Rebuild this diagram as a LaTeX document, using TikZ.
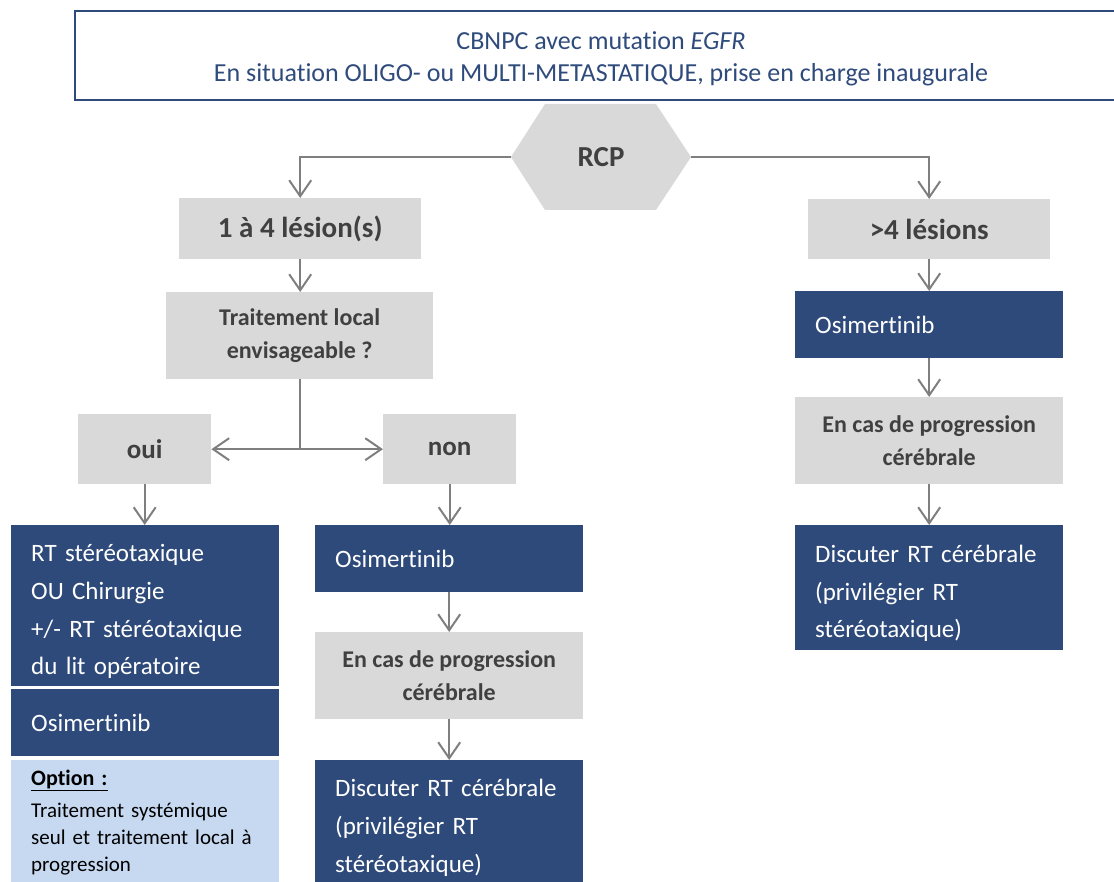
\documentclass[tikz,border=0pt]{standalone}
\usepackage{fontspec}
\setmainfont{Carlito}[Ligatures=NoCommon]
\usetikzlibrary{positioning,arrows.meta}
\definecolor{Navy}{HTML}{2E4A7A}
\definecolor{NavyInk}{HTML}{2F4B7C}
\definecolor{Stone}{HTML}{D9D9D9}
\definecolor{StoneInk}{HTML}{404040}
\definecolor{Wire}{HTML}{7F7F7F}
\definecolor{Mist}{HTML}{C6D9F1}
\tikzset{
  darkbox/.style={fill=Navy,text=white,anchor=north west,inner xsep=20pt,
    inner ysep=0pt,text width=228pt,align=left,
    font=\fontsize{25}{37.7}\selectfont},
  drop/.style={execute at begin node={\rule{0pt}{29pt}}},
  greybox/.style={fill=Stone,text=StoneInk,anchor=north west,inner sep=0pt,
    align=center,font=\bfseries\fontsize{27}{33}\selectfont},
  biggrey/.style={greybox,font=\bfseries\fontsize{29}{33}\selectfont},
  smallgrey/.style={greybox,font=\bfseries\fontsize{24}{33}\selectfont},
  wire/.style={draw=Wire,line width=2pt},
  arr/.style={wire,-{Straight Barb[length=16pt,width=22pt]}},
}

\begin{document}
\begin{tikzpicture}[x=1pt,y=-1pt]
  \useasboundingbox (0,0) rectangle (1114,882);
  \node[draw=Navy,line width=2pt,anchor=north west,minimum width=1052pt,
        minimum height=89pt,align=center,text=NavyInk,
        font=\fontsize{26}{32}\selectfont] (title) at (74,10)
        {\rule{0pt}{24pt}CBNPC avec mutation \textit{EGFR}\\
         En situation OLIGO- ou MULTI-METASTATIQUE, prise en charge inaugurale};
  \fill[Stone] (511,157) -- (545,104) -- (656,104) -- (691,157)
               -- (656,210) -- (545,210) -- cycle;
  \node[inner sep=0pt,minimum width=180pt,minimum height=106pt,text=StoneInk,
        font=\bfseries\fontsize{29}{33}\selectfont] (rcp) at (601,157) {RCP};
  \node[biggrey,minimum width=242pt,minimum height=61pt] (l14) at (179,198)
        {1 à 4 lésion(s)};
  \node[biggrey,minimum width=242pt,minimum height=60pt] (lplus) at (808,199)
        {>4 lésions};
  \node[smallgrey,minimum width=267pt,minimum height=87pt] (tl) at (166,292)
        {Traitement local\\envisageable ?};
  \node[greybox,minimum width=133pt,minimum height=70pt] (oui) at (78,414) {oui};
  \node[greybox,minimum width=133pt,minimum height=70pt] (non) at (383,414) {non};
  \node[darkbox,drop,minimum height=161pt] (rt) at (11,525)
        {RT stéréotaxique\\OU Chirurgie\\+/- RT stéréotaxique\\du lit opératoire};
  \node[darkbox,minimum height=67pt] (osiA) at (11,689) {Osimertinib};
  \node[darkbox,fill=Mist,text=black,minimum height=124pt,
        font=\fontsize{21}{27}\selectfont] (opt) at (11,760)
        {\textbf{\fontsize{22}{27}\selectfont\underline{Option :}}\\[5pt]
         Traitement systémique\\seul et traitement local à\\progression};
  \node[darkbox,minimum height=67pt] (osiB) at (315,525) {Osimertinib};
  \node[smallgrey,minimum width=268pt,minimum height=87pt] (casB) at (315,632)
        {En cas de progression\\cérébrale};
  \node[darkbox,drop,minimum height=124pt] (discB) at (315,760)
        {Discuter RT cérébrale\\(privilégier RT\\stéréotaxique)};
  \node[darkbox,minimum height=67pt] (osiC) at (795,291) {Osimertinib};
  \node[smallgrey,minimum width=268pt,minimum height=87pt] (casC) at (795,397)
        {En cas de progression\\cérébrale};
  \node[darkbox,drop,minimum height=125pt] (discC) at (795,525)
        {Discuter RT cérébrale\\(privilégier RT\\stéréotaxique)};

  \draw[arr] (rcp.west) -| (l14.north);
  \draw[arr] (rcp.east) -| (lplus.north);
  \coordinate (fork) at (tl.south |- oui.east);
  \draw[wire] (tl.south) -- (fork);
  \draw[arr] (fork) -- (oui.east);
  \draw[arr] (fork) -- (non.west);
  \foreach \a/\b in {l14/tl,oui/rt,non/osiB,osiB/casB,casB/discB,
                     lplus/osiC,osiC/casC,casC/discC}
    \draw[arr] (\a.south) -- (\a.south |- \b.north);
\end{tikzpicture}
\end{document}
